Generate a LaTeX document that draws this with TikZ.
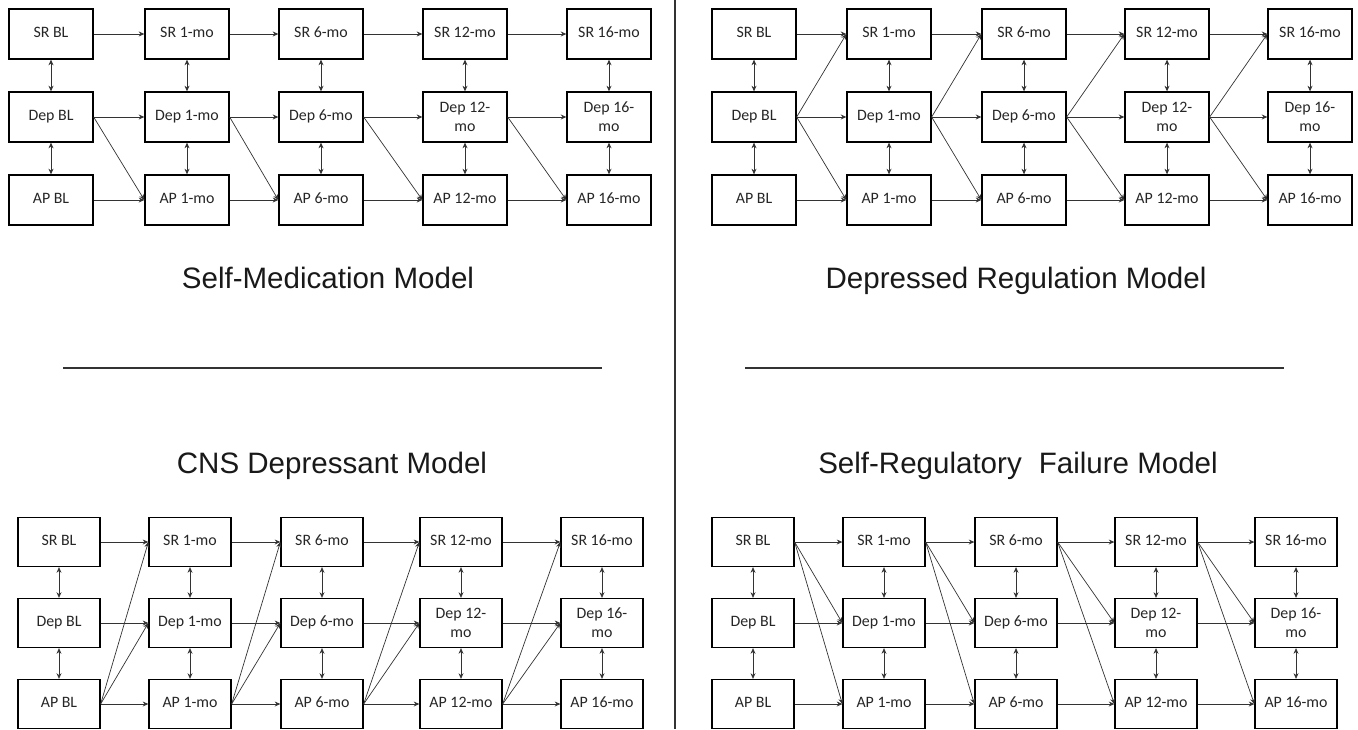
\documentclass[tikz,border=0pt]{standalone}
\usepackage{fontspec}
\newfontfamily\boxfont{Carlito}
\newfontfamily\titlefont{Liberation Sans}
\usetikzlibrary{arrows.meta}

\tikzset{
  box/.style={draw, line width=0.9pt, align=center, inner sep=1pt, text=black!85,
    font=\boxfont\fontsize{11.3}{13.5}\selectfont},
  bigbox/.style={box, minimum width=2.1cm, minimum height=1.25cm},
  smallbox/.style={box, minimum width=2.05cm, minimum height=1.225cm},
  arr/.style={-{Stealth[length=4pt,width=3.5pt]}, line width=0.5pt, black!80},
  twoway/.style={{Stealth[length=4pt,width=3.5pt]}-{Stealth[length=4pt,width=3.5pt]}, line width=0.5pt, black!80},
  title/.style={font=\titlefont\fontsize{21}{25}\selectfont, anchor=base, text=black!90},
  rule/.style={line width=1.2pt, black!80}
}

\begin{document}
\begin{tikzpicture}[x=0.025cm, y=-0.025cm]
\useasboundingbox (0,0) rectangle (1358,729); % page = reference size in px

% Self-Medication Model
\foreach \x/\lab/\dep [count=\i] in {51/BL/\strut Dep BL, 187/1-mo/\strut Dep 1-mo, 321/6-mo/\strut Dep 6-mo, 465/12-mo/{Dep 12-\\mo}, 609/16-mo/{Dep 16-\\mo}} {
  \node[bigbox] (sm-sr-\i) at (\x,34) {\strut SR \lab};
  \node[bigbox] (sm-dep-\i) at (\x,117) {\dep};
  \node[bigbox] (sm-ap-\i) at (\x,200) {\strut AP \lab};
  \draw[twoway] (sm-sr-\i) -- (sm-dep-\i);
  \draw[twoway] (sm-dep-\i) -- (sm-ap-\i);
}
\foreach \i/\j in {1/2,2/3,3/4,4/5} {
  \draw[arr] (sm-sr-\i) -- (sm-sr-\j);
  \draw[arr] (sm-dep-\i) -- (sm-dep-\j);
  \draw[arr] (sm-ap-\i) -- (sm-ap-\j);
  \draw[arr] (sm-dep-\i.east) -- (sm-ap-\j.west);
}
\node[title] (t-sm) at (328,288) {Self-Medication Model};

% Depressed Regulation Model
\foreach \x/\lab/\dep [count=\i] in {754/BL/\strut Dep BL, 889/1-mo/\strut Dep 1-mo, 1024/6-mo/\strut Dep 6-mo, 1167/12-mo/{Dep 12-\\mo}, 1310/16-mo/{Dep 16-\\mo}} {
  \node[bigbox] (dr-sr-\i) at (\x,34) {\strut SR \lab};
  \node[bigbox] (dr-dep-\i) at (\x,117) {\dep};
  \node[bigbox] (dr-ap-\i) at (\x,200) {\strut AP \lab};
  \draw[twoway] (dr-sr-\i) -- (dr-dep-\i);
  \draw[twoway] (dr-dep-\i) -- (dr-ap-\i);
}
\foreach \i/\j in {1/2,2/3,3/4,4/5} {
  \draw[arr] (dr-sr-\i) -- (dr-sr-\j);
  \draw[arr] (dr-dep-\i) -- (dr-dep-\j);
  \draw[arr] (dr-ap-\i) -- (dr-ap-\j);
  \draw[arr] (dr-dep-\i.east) -- (dr-sr-\j.west);
  \draw[arr] (dr-dep-\i.east) -- (dr-ap-\j.west);
}
\node[title] (t-dr) at (1016,288) {Depressed Regulation Model};

% dividers
\draw[rule] (63,368) -- (602,368);
\draw[rule] (745,368) -- (1284,368);
\draw[rule] (675,0) -- (675,729);

% CNS Depressant Model
\node[title] (t-cns) at (332,473) {CNS Depressant Model};
\foreach \x/\lab/\dep [count=\i] in {59/BL/\strut Dep BL, 190/1-mo/\strut Dep 1-mo, 322/6-mo/\strut Dep 6-mo, 461/12-mo/{Dep 12-\\mo}, 602/16-mo/{Dep 16-\\mo}} {
  \node[smallbox] (cns-sr-\i) at (\x,542) {\strut SR \lab};
  \node[smallbox] (cns-dep-\i) at (\x,623) {\dep};
  \node[smallbox] (cns-ap-\i) at (\x,704) {\strut AP \lab};
  \draw[twoway] (cns-sr-\i) -- (cns-dep-\i);
  \draw[twoway] (cns-dep-\i) -- (cns-ap-\i);
}
\foreach \i/\j in {1/2,2/3,3/4,4/5} {
  \draw[arr] (cns-sr-\i) -- (cns-sr-\j);
  \draw[arr] (cns-dep-\i) -- (cns-dep-\j);
  \draw[arr] (cns-ap-\i) -- (cns-ap-\j);
  \draw[arr] (cns-ap-\i.east) -- (cns-sr-\j.west);
  \draw[arr] (cns-ap-\i.east) -- (cns-dep-\j.west);
}

% Self-Regulatory Failure Model
\node[title] (t-srf) at (1018,473) {Self-Regulatory\hspace{0.3em} Failure Model};
\foreach \x/\lab/\dep [count=\i] in {753/BL/\strut Dep BL, 884/1-mo/\strut Dep 1-mo, 1016/6-mo/\strut Dep 6-mo, 1156/12-mo/{Dep 12-\\mo}, 1296/16-mo/{Dep 16-\\mo}} {
  \node[smallbox] (srf-sr-\i) at (\x,542) {\strut SR \lab};
  \node[smallbox] (srf-dep-\i) at (\x,623) {\dep};
  \node[smallbox] (srf-ap-\i) at (\x,704) {\strut AP \lab};
  \draw[twoway] (srf-sr-\i) -- (srf-dep-\i);
  \draw[twoway] (srf-dep-\i) -- (srf-ap-\i);
}
\foreach \i/\j in {1/2,2/3,3/4,4/5} {
  \draw[arr] (srf-sr-\i) -- (srf-sr-\j);
  \draw[arr] (srf-dep-\i) -- (srf-dep-\j);
  \draw[arr] (srf-ap-\i) -- (srf-ap-\j);
  \draw[arr] (srf-sr-\i.east) -- (srf-dep-\j.west);
  \draw[arr] (srf-sr-\i.east) -- (srf-ap-\j.west);
}
\end{tikzpicture}
\end{document}
